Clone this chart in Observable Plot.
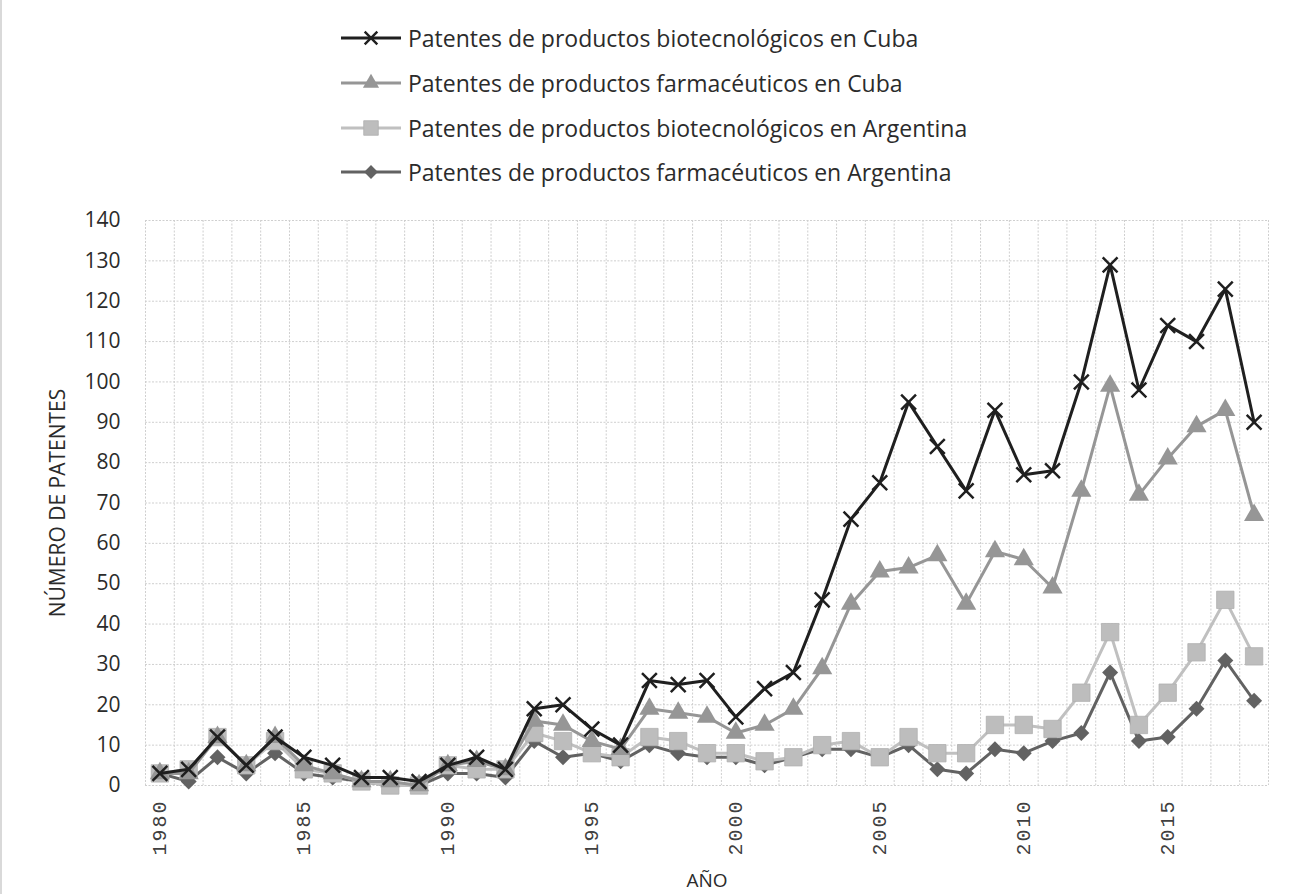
<!DOCTYPE html>
<html>
<head>
<meta charset="utf-8">
<script src="https://cdn.jsdelivr.net/npm/d3@7"></script>
<script src="https://cdn.jsdelivr.net/npm/@observablehq/plot@0.6"></script>
<style>
  html, body { margin: 0; padding: 0; background: #fff; }
  #wrap { position: relative; width: 1299px; height: 894px; border-left: 2px solid #d9d9d9; box-sizing: border-box; }
  #legend { position: relative; width: 1297px; height: 200px; font-family: "Open Sans", sans-serif; font-size: 23px; color: #2b2b2b; }
  .row { position: absolute; left: 337px; height: 30px; display: flex; align-items: center; }
  .row svg { display: block; }
  .row span { margin-left: 5px; white-space: nowrap; }
  #chart { position: absolute; left: -2px; top: 200px; }
</style>
</head>
<body>
<div id="wrap">
  <div id="legend"></div>
  <div id="chart"></div>
</div>
<script>
const years = [1980,1981,1982,1983,1984,1985,1986,1987,1988,1989,
               1990,1991,1992,1993,1994,1995,1996,1997,1998,1999,
               2000,2001,2002,2003,2004,2005,2006,2007,2008,2009,
               2010,2011,2012,2013,2014,2015,2016,2017,2018];
const bioCuba    = [3,4,12,5,12,7,5,2,2,1, 5,7,4,19,20,14,10,26,25,26, 17,24,28,46,66,75,95,84,73,93, 77,78,100,129,98,114,110,123,90];
const pharmaCuba = [3,3,12,5,12,5,3,1,1,0, 5,6,4,16,15,11,9,19,18,17, 13,15,19,29,45,53,54,57,45,58, 56,49,73,99,72,81,89,93,67];
const bioArg     = [3,4,12,5,11,4,3,1,0,0, 5,4,4,13,11,8,7,12,11,8, 8,6,7,10,11,7,12,8,8,15, 15,14,23,38,15,23,33,46,32];
const pharmaArg  = [3,1,7,3,8,3,2,1,0,0, 3,3,2,11,7,8,6,10,8,7, 7,5,7,9,9,7,10,4,3,9, 8,11,13,28,11,12,19,31,21];
const seriesNames = [
  "Patentes de productos biotecnológicos en Cuba",
  "Patentes de productos farmacéuticos en Cuba",
  "Patentes de productos biotecnológicos en Argentina",
  "Patentes de productos farmacéuticos en Argentina"
];
const yTicks = [0,10,20,30,40,50,60,70,80,90,100,110,120,130,140];
const xTickLabels = [1980,1985,1990,1995,2000,2005,2010,2015];
const xTitle = "AÑO";
const yTitle = "NÚMERO DE PATENTES";

// Custom diamond (square rotated 45°)
const diamond = {
  draw(context, size) {
    const r = Math.sqrt(size) * 0.62625;
    context.moveTo(0, -r); context.lineTo(r, 0); context.lineTo(0, r); context.lineTo(-r, 0); context.closePath();
  }
};

const styles = [
  {values: bioCuba,    line: "#1f1f1f", symbol: "times",    fill: "none",    stroke: "#1f1f1f", r: 6.8, sw: 2.5, lr: 5.8},
  {values: pharmaCuba, line: "#969696", symbol: "triangle", fill: "#969696", stroke: "none",    r: 7.5, sw: 0,   lr: 6.0},
  {values: bioArg,     line: "#c0c0c0", symbol: "square",   fill: "#bdbdbd", stroke: "#b0b0b0", r: 9.8, sw: 0.8, lr: 8.2},
  {values: pharmaArg,  line: "#626262", symbol: diamond,    fill: "#626262", stroke: "none",    r: 7.2, sw: 0,   lr: 6.2}
];

const tables = styles.map(s => years.map((yr, i) => ({year: yr, value: s.values[i]})));
const bounds = years.map(y => y - 0.5).concat([years[years.length - 1] + 0.5]);

// Legend
const legend = document.getElementById("legend");
const rowCenters = [38, 83, 128, 172];
seriesNames.forEach((name, i) => {
  const s = styles[i];
  const row = document.createElement("div");
  row.className = "row";
  row.style.top = (rowCenters[i] - 15) + "px";
  const sw = d3.create("svg").attr("width", 64).attr("height", 30);
  sw.append("line").attr("x1", 2).attr("x2", 62).attr("y1", 15).attr("y2", 15)
    .attr("stroke", s.line).attr("stroke-width", 3);
  const symObj = s.symbol === "times" ? d3.symbolTimes : s.symbol === "triangle" ? d3.symbolTriangle : s.symbol === "square" ? d3.symbolSquare : diamond;
  const rr = s.lr;
  sw.append("path").attr("transform", "translate(32,15)")
    .attr("d", d3.symbol(symObj, Math.PI * rr * rr)())
    .attr("fill", s.fill).attr("stroke", s.stroke === "none" ? "none" : s.stroke)
    .attr("stroke-width", s.symbol === "times" ? 2.4 : s.sw);
  row.appendChild(sw.node());
  const t = document.createElement("span");
  t.textContent = name;
  row.appendChild(t);
  legend.appendChild(row);
});

// Draw order: diamond, square, triangle, times (on top)
const order = [3, 2, 1, 0];
const seriesMarks = order.flatMap(i => {
  const s = styles[i];
  return [
    Plot.line(tables[i], {x: "year", y: "value", stroke: s.line, strokeWidth: 3}),
    Plot.dot(tables[i], {x: "year", y: "value", symbol: () => s.symbol, r: s.r,
      fill: s.fill, stroke: s.stroke, strokeWidth: s.sw})
  ];
});

const chart = Plot.plot({
  width: 1299,
  height: 694,
  marginTop: 20,
  marginBottom: 109,
  marginLeft: 145,
  marginRight: 31,
  x: {domain: [1979.5, 2018.5], axis: null},
  y: {domain: [0, 140], axis: null},
  symbol: {type: "identity"},
  style: {fontFamily: "Open Sans, sans-serif", background: "transparent", overflow: "visible"},
  marks: [
    Plot.ruleY(yTicks, {stroke: "#cfcfcf", strokeWidth: 1, strokeDasharray: "2,1.5"}),
    Plot.ruleX(bounds, {stroke: "#cfcfcf", strokeWidth: 1, strokeDasharray: "2,1.5"}),
    Plot.axisY(yTicks, {tickSize: 0, tickPadding: 25, fontSize: 21, fill: "#2b2b2b", label: null, tickFormat: d => String(d)}),
    Plot.axisX(xTickLabels, {tickSize: 0, tickPadding: 14, tickRotate: -90, fontSize: 20,
      fontFamily: "Liberation Mono, monospace", fill: "#404040", label: null, tickFormat: d => String(d), className: "xt"}),
    Plot.text([yTitle], {frameAnchor: "left", dx: -87, rotate: -90, textAnchor: "middle", lineAnchor: "middle", fontSize: 21, fill: "#2b2b2b"}),
    Plot.text([xTitle], {frameAnchor: "bottom", dy: 95, textAnchor: "middle", lineAnchor: "middle", fontSize: 19, fill: "#2b2b2b"}),
    ...seriesMarks
  ]
});
chart.querySelectorAll(".xt text").forEach(t => t.style.letterSpacing = "2px");
document.getElementById("chart").appendChild(chart);
</script>
</body>
</html>
